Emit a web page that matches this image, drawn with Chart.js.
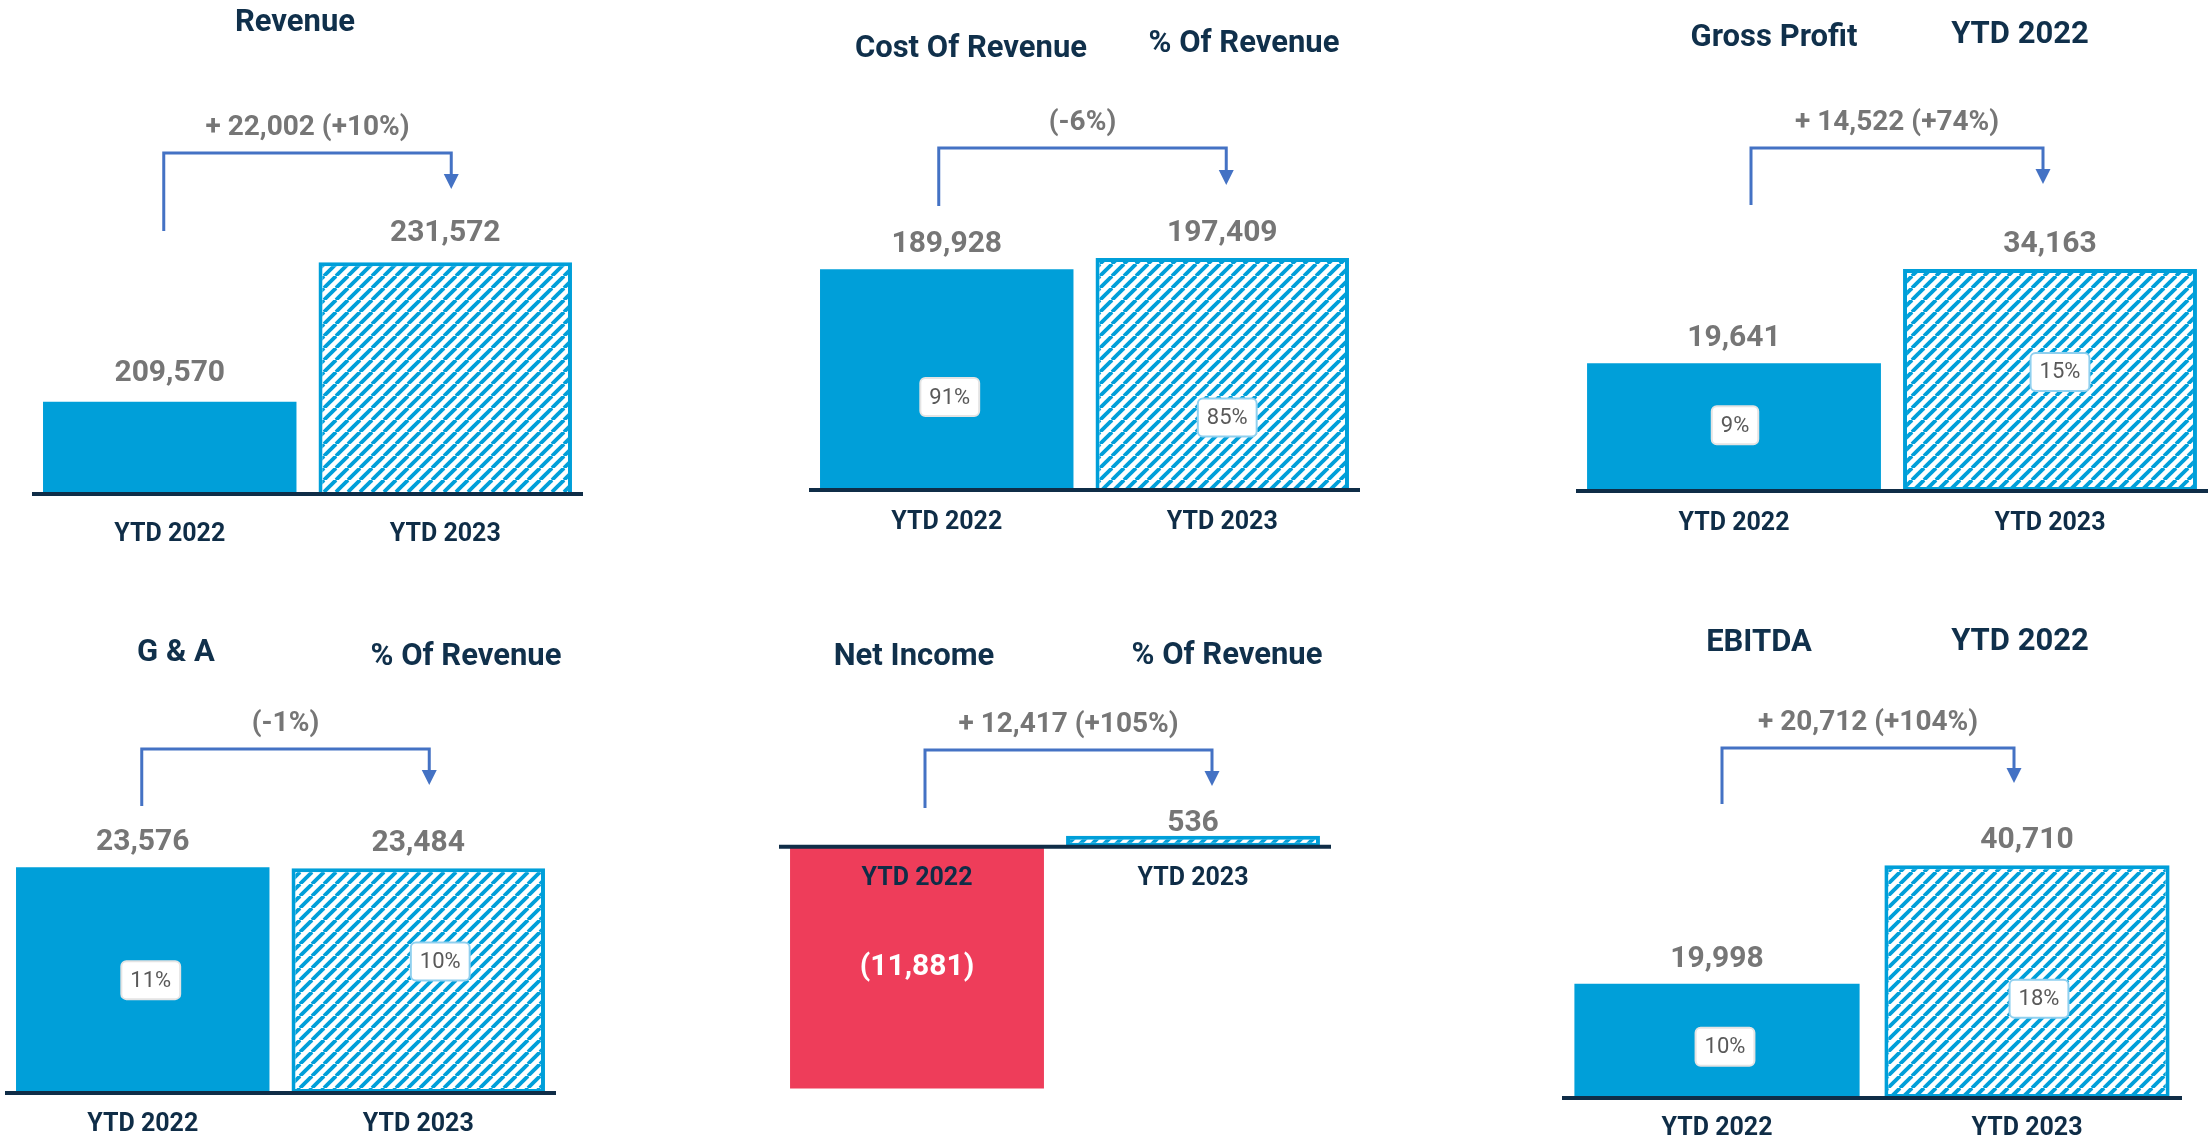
<!DOCTYPE html>
<html>
<head>
<meta charset="utf-8">
<script src="https://cdn.jsdelivr.net/npm/chart.js@4.4.1/dist/chart.umd.min.js"></script>
<style>
  html, body { margin: 0; padding: 0; background: #fff; }
  #page { position: relative; width: 2208px; height: 1139px; overflow: hidden; font-family: Roboto, "Liberation Sans", sans-serif; }
  #page canvas { position: absolute; }
  .title { position: absolute; transform: translate(-50%, -50%); font-weight: 700; font-size: 31px; color: #10304b; white-space: nowrap; }
</style>
</head>
<body>
<div id="page"></div>
<script>
// values
const categories = ["YTD 2022", "YTD 2023"];
const revenue = [209570, 231572];
const costOfRevenue = [189928, 197409];
const grossProfit = [19641, 34163];
const gAndA = [23576, 23484];
const netIncome = [-11881, 536];
const ebitda = [19998, 40710];

// % of revenue badges
const costOfRevenuePct = [91, 85];
const grossProfitPct = [9, 15];
const gAndAPct = [11, 10];
const ebitdaPct = [10, 18];

const changeLabels = ["+ 22,002 (+10%)", "(-6%)", "+ 14,522 (+74%)", "(-1%)", "+ 12,417 (+105%)", "+ 20,712 (+104%)"];

const FONT = 'Roboto, "Liberation Sans", sans-serif';
const BLUE = "#009fd9";
const RED = "#ee3d5a";
const NAVY = "#0f2d47";
const GRAY = "#767676";
const ARROW = "#4472c4";

// layout: box = canvas rect, area = [left, top, right, bottom] of plot, all in page px
const panels = [
  { titles: [["Revenue", 295, 20]], values: revenue, pct: null, change: changeLabels[0],
    box: [0, 0, 740, 560], area: [32, 82, 583, 494], min: 195000, max: 260000, base: 195000,
    catPct: 0.92, labelGap: 21, tickPad: 26,
    bracket: { top: 153, leftBottom: 231, tip: 189, dx: [-6, 6] } },
  { titles: [["Cost Of Revenue", 971, 46], ["% Of Revenue", 1244, 41]], values: costOfRevenue, pct: costOfRevenuePct, change: changeLabels[1],
    box: [740, 0, 740, 560], area: [809, 107, 1360, 490], min: 40000, max: 300000, base: 40000,
    catPct: 0.92, labelGap: 17, tickPad: 18, pctShift: [[3, -12], [5, 14]],
    bracket: { top: 148, leftBottom: 206, tip: 185, dx: [-8, 4] } },
  { titles: [["Gross Profit", 1774, 35], ["YTD 2022", 2020, 32]], values: grossProfit, pct: grossProfitPct, change: changeLabels[2],
    box: [1480, 0, 728, 560], area: [1576, 101, 2208, 491], min: 0, max: 60000, base: 0,
    catPct: 0.93, labelGap: 17, tickPad: 18, pctShift: [[1, -2], [10, -8]],
    bracket: { top: 148, leftBottom: 205, tip: 184, dx: [17, -7] } },
  { titles: [["G & A", 176, 650], ["% Of Revenue", 466, 654]], values: gAndA, pct: gAndAPct, change: changeLabels[3],
    box: [0, 560, 740, 579], area: [5, 710, 556, 1093], min: 0, max: 40000, base: 0,
    catPct: 0.92, labelGap: 17, tickPad: 17, pctShift: [[8, 0], [22, -19]],
    bracket: { top: 749, leftBottom: 806, tip: 785, dx: [-1, 11] } },
  { titles: [["Net Income", 914, 654], ["% Of Revenue", 1227, 653]], values: netIncome, pct: null, change: changeLabels[4],
    box: [740, 560, 740, 579], area: [779, 745, 1331, 1091], min: -12000, max: 5000, base: 0,
    catPct: 0.92, labelGap: 5, tickPad: 17,
    bracket: { top: 750, leftBottom: 808, tip: 786, dx: [8, 19] } },
  { titles: [["EBITDA", 1759, 640], ["YTD 2022", 2020, 639]], values: ebitda, pct: ebitdaPct, change: changeLabels[5],
    box: [1480, 560, 728, 579], area: [1562, 698, 2182, 1098], min: 0, max: 70000, base: 0,
    catPct: 0.92, labelGap: 17, tickPad: 16, pctShift: [[8, 6], [12, 17]],
    bracket: { top: 748, leftBottom: 804, tip: 783, dx: [5, -13] } },
];

function makeHatch() {
  const s = 12;
  const c = document.createElement("canvas");
  c.width = c.height = s;
  const g = c.getContext("2d");
  g.fillStyle = "#fff";
  g.fillRect(0, 0, s, s);
  g.strokeStyle = BLUE;
  g.lineWidth = 3.8;
  for (const k of [-1, 0, 1]) {
    g.beginPath();
    g.moveTo(k * s, s);
    g.lineTo(k * s + s, 0);
    g.stroke();
  }
  return g.createPattern(c, "repeat");
}

function fmt(v) {
  const s = Math.abs(v).toLocaleString("en-US");
  return v < 0 ? "(" + s + ")" : s;
}

function roundRect(ctx, x, y, w, h, r) {
  ctx.beginPath();
  ctx.moveTo(x + r, y);
  ctx.arcTo(x + w, y, x + w, y + h, r);
  ctx.arcTo(x + w, y + h, x, y + h, r);
  ctx.arcTo(x, y + h, x, y, r);
  ctx.arcTo(x, y, x + w, y, r);
  ctx.closePath();
}

function decor(p) {
  return {
    id: "decor",
    afterDraw(chart) {
      const ctx = chart.ctx;
      const meta = chart.getDatasetMeta(0);
      const area = chart.chartArea;
      const oy = p.box[1];
      ctx.save();

      // baseline
      const by = chart.scales.y.getPixelForValue(p.base);
      ctx.strokeStyle = NAVY;
      ctx.lineWidth = 4;
      ctx.beginPath();
      ctx.moveTo(area.left, by);
      ctx.lineTo(area.right, by);
      ctx.stroke();

      // value labels
      ctx.textAlign = "center";
      ctx.font = `700 30px ${FONT}`;
      meta.data.forEach((bar, i) => {
        const v = p.values[i];
        if (v < 0) {
          ctx.fillStyle = "#fff";
          ctx.textBaseline = "middle";
          ctx.fillText(fmt(v), bar.x, (bar.y + bar.base) / 2);
        } else {
          ctx.fillStyle = GRAY;
          ctx.textBaseline = "alphabetic";
          ctx.fillText(fmt(v), bar.x, bar.y - p.labelGap);
        }
      });

      // % of revenue badges
      if (p.pct) {
        ctx.font = `400 22px ${FONT}`;
        meta.data.forEach((bar, i) => {
          const [dx, dy] = p.pctShift[i];
          const cx = bar.x + dx, cy = (bar.y + bar.base) / 2 + dy;
          const t = p.pct[i] + "%";
          const w = ctx.measureText(t).width + 18, h = 38;
          roundRect(ctx, cx - w / 2, cy - h / 2, w, h, 5);
          ctx.fillStyle = "#fff";
          ctx.fill();
          ctx.lineWidth = 2;
          ctx.strokeStyle = i === 0 ? "#e4e4e4" : "#8fd0ef";
          ctx.stroke();
          ctx.fillStyle = "#595959";
          ctx.textBaseline = "middle";
          ctx.fillText(t, cx, cy + 1);
        });
      }

      // change bracket
      const b = p.bracket;
      const lx = meta.data[0].x + b.dx[0];
      const rx = meta.data[1].x + b.dx[1];
      const top = b.top - oy, lb = b.leftBottom - oy, tip = b.tip - oy;
      ctx.strokeStyle = ARROW;
      ctx.lineWidth = 3;
      ctx.beginPath();
      ctx.moveTo(lx, lb);
      ctx.lineTo(lx, top);
      ctx.lineTo(rx, top);
      ctx.lineTo(rx, tip - 13);
      ctx.stroke();
      ctx.fillStyle = ARROW;
      ctx.beginPath();
      ctx.moveTo(rx - 7.5, tip - 15);
      ctx.lineTo(rx + 7.5, tip - 15);
      ctx.lineTo(rx, tip);
      ctx.closePath();
      ctx.fill();

      ctx.font = `700 28px ${FONT}`;
      ctx.fillStyle = GRAY;
      ctx.textBaseline = "middle";
      ctx.fillText(p.change, (lx + rx) / 2, top - 25);
      ctx.restore();
    }
  };
}

const page = document.getElementById("page");
const hatch = makeHatch();

panels.forEach(p => {
  const [bx, byy, bw, bh] = p.box;
  const [al, at, ar, ab] = p.area;
  const canvas = document.createElement("canvas");
  canvas.width = bw;
  canvas.height = bh;
  canvas.style.left = bx + "px";
  canvas.style.top = byy + "px";
  page.appendChild(canvas);

  p.titles.forEach(([text, x, y]) => {
    const d = document.createElement("div");
    d.className = "title";
    d.textContent = text;
    d.style.left = x + "px";
    d.style.top = y + "px";
    page.appendChild(d);
  });

  new Chart(canvas, {
    type: "bar",
    data: {
      labels: categories,
      datasets: [{
        data: p.values,
        backgroundColor: p.values.map((v, i) => i === 0 ? (v < 0 ? RED : BLUE) : hatch),
        borderColor: BLUE,
        borderWidth: [0, 4],
        borderSkipped: false,
        barPercentage: 1,
        categoryPercentage: p.catPct,
      }],
    },
    options: {
      responsive: false,
      animation: false,
      layout: { padding: { left: al - bx, right: bx + bw - ar, top: at - byy, bottom: byy + bh - ab } },
      plugins: { legend: { display: false }, tooltip: { enabled: false } },
      scales: {
        x: {
          position: { y: p.base },
          grid: { display: false, drawTicks: false },
          border: { display: false },
          ticks: { z: 1, color: NAVY, padding: p.tickPad, font: { family: FONT, size: 25, weight: "bold" } },
        },
        y: { display: false, min: p.min, max: p.max },
      },
    },
    plugins: [decor(p)],
  });
});
</script>
</body>
</html>
